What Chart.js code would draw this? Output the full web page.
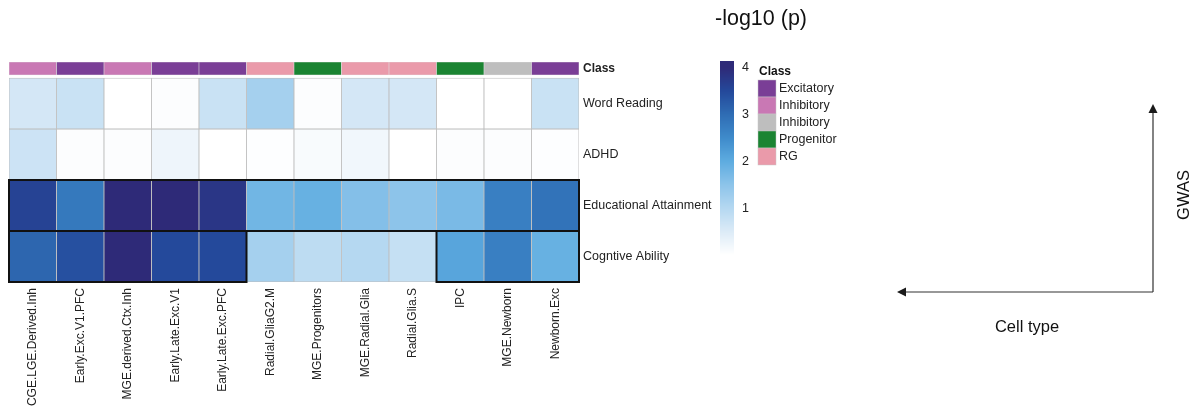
<!DOCTYPE html>
<html>
<head>
<meta charset="utf-8">
<script src="https://cdn.jsdelivr.net/npm/chart.js@4/dist/chart.umd.min.js"></script>
<style>
  html, body { margin: 0; padding: 0; background: #ffffff; }
  #wrap { width: 1198px; height: 412px; position: relative; }
</style>
</head>
<body>
<div id="wrap"><canvas id="heat" width="1198" height="412"></canvas></div>
<script>
// Cell types (columns) and their class annotation
const cellTypes = ['CGE.LGE.Derived.Inh', 'Early.Exc.V1.PFC', 'MGE.derived.Ctx.Inh', 'Early.Late.Exc.V1',
  'Early.Late.Exc.PFC', 'Radial.GliaG2.M', 'MGE.Progenitors', 'MGE.Radial.Glia', 'Radial.Glia.S',
  'IPC', 'MGE.Newborn', 'Newborn.Exc'];
const classNames = ['Excitatory', 'Inhibitory', 'Inhibitory', 'Progenitor', 'RG'];
const classColors = ['#7a3e96', '#c978b4', '#bebebe', '#1b8432', '#ea9aaa'];
const classOf = [1, 0, 1, 0, 0, 4, 3, 4, 4, 3, 2, 0];

// GWAS traits (rows) and -log10(p) per cell type
const gwasTraits = ['Word Reading', 'ADHD', 'Educational Attainment', 'Cogntive Ability'];
const wordReading = [0.6, 0.75, 0.0, 0.05, 0.75, 1.2, 0.05, 0.6, 0.6, 0.0, 0.0, 0.75];
const adhd = [0.7, 0.05, 0.05, 0.25, 0.0, 0.03, 0.1, 0.2, 0.0, 0.05, 0.05, 0.03];
const eduAttainment = [3.6, 2.8, 4.0, 4.0, 3.8, 1.8, 1.9, 1.6, 1.5, 1.7, 2.7, 2.9];
const cogAbility = [3.1, 3.4, 4.0, 3.5, 3.5, 1.2, 0.9, 1.0, 0.8, 2.1, 2.7, 1.9];
const traitValues = [wordReading, adhd, eduAttainment, cogAbility];

// Significant blocks outlined in black: [row, first column, last column]
const highlightBlocks = [[2, 0, 11], [3, 0, 4], [3, 9, 11]];

// Colour scale legend
const colorbarTicks = [1, 2, 3, 4];
const colorStops = [
  [0, '#ffffff'], [0.5, '#dcebf7'], [1, '#b5d8f1'], [1.5, '#8dc4ea'], [2, '#5eace0'],
  [2.5, '#3f8bcb'], [3, '#2f6db4'], [3.5, '#24499b'], [4, '#2e2a78']
];

const FONT = "'Liberation Sans', Arial, Helvetica, sans-serif";

function hexToRgb(h) {
  const n = parseInt(h.slice(1), 16);
  return [(n >> 16) & 255, (n >> 8) & 255, n & 255];
}
function valueColor(v) {
  v = Math.max(0, Math.min(4, v));
  for (let i = 1; i < colorStops.length; i++) {
    if (v <= colorStops[i][0]) {
      const [v0, c0] = colorStops[i - 1], [v1, c1] = colorStops[i];
      const t = (v - v0) / (v1 - v0);
      const a = hexToRgb(c0), b = hexToRgb(c1);
      const m = a.map((x, k) => Math.round(x + (b[k] - x) * t));
      return `rgb(${m[0]},${m[1]},${m[2]})`;
    }
  }
  return colorStops[colorStops.length - 1][1];
}

// Class strip sits just above the first trait row
const CLASS_TOP = -0.314, CLASS_BOTTOM = -0.059;

const datasets = [{
  label: 'Class',
  data: cellTypes.map(() => [CLASS_TOP, CLASS_BOTTOM]),
  backgroundColor: classOf.map(c => classColors[c]),
  borderColor: 'rgba(220,220,220,0.9)',
  borderWidth: 0.6,
  borderSkipped: false
}].concat(traitValues.map((vals, r) => ({
  label: gwasTraits[r],
  data: vals.map(() => [r, r + 1]),
  backgroundColor: vals.map(valueColor),
  borderColor: '#bdbdbd',
  borderWidth: 0.8,
  borderSkipped: false
})));

const yTickValues = [(CLASS_TOP + CLASS_BOTTOM) / 2, 0.5, 1.5, 2.5, 3.5];
const yTickLabels = ['Class'].concat(gwasTraits);

// Black outlines around the highlighted blocks
const outlinePlugin = {
  id: 'outlines',
  afterDatasetsDraw(chart) {
    const { ctx, scales: { x, y } } = chart;
    const half = (x.getPixelForValue(1) - x.getPixelForValue(0)) / 2;
    ctx.save();
    ctx.strokeStyle = '#111111';
    ctx.lineWidth = 2;
    highlightBlocks.forEach(([row, c0, c1]) => {
      const x0 = x.getPixelForValue(c0) - half, x1 = x.getPixelForValue(c1) + half;
      const y0 = y.getPixelForValue(row), y1 = y.getPixelForValue(row + 1);
      ctx.strokeRect(x0, y0, x1 - x0, y1 - y0);
    });
    ctx.restore();
  }
};

// Colour bar, class legend, title and the axis arrows
const annotationPlugin = {
  id: 'annotations',
  afterDraw(chart) {
    const ctx = chart.ctx;
    const area = chart.chartArea;
    ctx.save();

    // title
    ctx.fillStyle = '#111111';
    ctx.font = `21.5px ${FONT}`;
    ctx.textAlign = 'left';
    ctx.textBaseline = 'middle';
    ctx.fillText('-log10 (p)', 715, 19);

    // colour bar
    const barX = area.right + 141, barW = 14;
    const zeroY = 255, unit = 46.75, topVal = 4.15;
    const valToY = v => zeroY - v * unit;
    for (let py = Math.round(valToY(topVal)); py < zeroY; py++) {
      const v = (zeroY - py - 0.5) / unit;
      ctx.fillStyle = valueColor(v);
      ctx.fillRect(barX, py, barW, 1);
    }
    ctx.fillStyle = '#222222';
    ctx.font = `12.5px ${FONT}`;
    ctx.textAlign = 'left';
    colorbarTicks.forEach(t => ctx.fillText(String(t), barX + 22, valToY(t)));

    // class legend
    const lx = barX + 38, ly = 72;
    ctx.font = `bold 12px ${FONT}`;
    ctx.fillStyle = '#111111';
    ctx.fillText('Class', lx + 1, ly);
    classNames.forEach((name, i) => {
      const sy = 80 + i * 17;
      ctx.fillStyle = classColors[i];
      ctx.fillRect(lx, sy, 18, 17);
      ctx.strokeStyle = 'rgba(200,200,200,0.8)';
      ctx.lineWidth = 0.6;
      ctx.strokeRect(lx, sy, 18, 17);
      ctx.fillStyle = '#222222';
      ctx.font = `12.5px ${FONT}`;
      ctx.fillText(name, lx + 21, sy + 9);
    });

    // axis arrows
    const ox = 1153, oy = 292, topY = 104, leftX = 897;
    ctx.strokeStyle = '#333333';
    ctx.fillStyle = '#1a1a1a';
    ctx.lineWidth = 1.2;
    ctx.beginPath();
    ctx.moveTo(ox, oy); ctx.lineTo(ox, topY + 6);
    ctx.moveTo(ox, oy); ctx.lineTo(leftX + 6, oy);
    ctx.stroke();
    ctx.beginPath();
    ctx.moveTo(ox, topY); ctx.lineTo(ox - 4.5, topY + 9); ctx.lineTo(ox + 4.5, topY + 9); ctx.closePath();
    ctx.fill();
    ctx.beginPath();
    ctx.moveTo(leftX, oy); ctx.lineTo(leftX + 9, oy - 4.5); ctx.lineTo(leftX + 9, oy + 4.5); ctx.closePath();
    ctx.fill();

    ctx.font = `16.5px ${FONT}`;
    ctx.fillStyle = '#111111';
    ctx.textAlign = 'center';
    ctx.fillText('Cell type', 1027, 327);
    ctx.translate(1184, 195);
    ctx.rotate(-Math.PI / 2);
    ctx.fillText('GWAS', 0, 0);
    ctx.restore();
  }
};

new Chart(document.getElementById('heat'), {
  type: 'bar',
  data: { labels: cellTypes, datasets },
  options: {
    responsive: false,
    animation: false,
    events: [],
    layout: { padding: { left: 9, top: 62, right: 479, bottom: 0 } },
    datasets: { bar: { grouped: false, barPercentage: 1, categoryPercentage: 1 } },
    plugins: { legend: { display: false }, tooltip: { enabled: false }, title: { display: false } },
    scales: {
      x: {
        type: 'category',
        grid: { display: false, drawTicks: false },
        border: { display: false },
        ticks: {
          minRotation: 90, maxRotation: 90, padding: 6, autoSkip: false,
          color: '#222222', font: { family: FONT, size: 12 }
        },
        afterFit(scale) { scale.height = 130; }
      },
      y: {
        type: 'linear',
        position: 'right',
        reverse: true,
        min: CLASS_TOP,
        max: 4,
        grid: { display: false, drawTicks: false },
        border: { display: false },
        afterBuildTicks(scale) { scale.ticks = yTickValues.map(v => ({ value: v })); },
        ticks: {
          padding: 4,
          color: '#222222',
          callback: (v, i) => yTickLabels[i],
          font: ctx => ({ family: FONT, size: ctx.index === 0 ? 12 : 12.5, weight: ctx.index === 0 ? 'bold' : 'normal' })
        },
        afterFit(scale) { scale.width = 140; }
      }
    }
  },
  plugins: [outlinePlugin, annotationPlugin]
});
</script>
</body>
</html>
